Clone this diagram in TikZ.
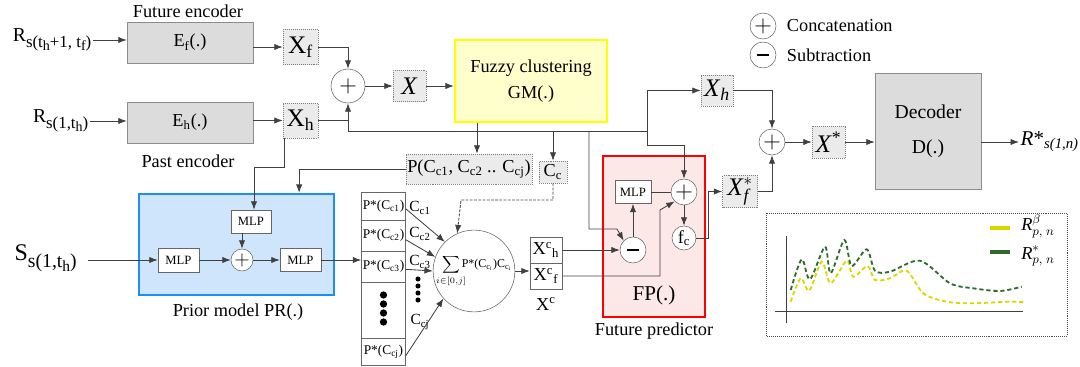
\documentclass[tikz,border=0pt]{standalone}
\usepackage{fontspec}
\setmainfont{Liberation Serif}
\usepackage{amsmath,amssymb}
\usetikzlibrary{positioning,calc,arrows.meta}
\definecolor{encgray}{HTML}{DCDCDC}
\definecolor{featgray}{HTML}{EBEBEB}
\definecolor{gmyellow}{HTML}{FFFF00}
\definecolor{gmfill}{HTML}{FFFFCC}
\definecolor{prblue}{HTML}{1E8FF0}
\definecolor{prfill}{HTML}{CFE5FB}
\definecolor{fpfill}{HTML}{FDE8E8}
\definecolor{ylwc}{HTML}{D8D800}
\definecolor{grnc}{HTML}{2F6B2F}
% lowered index text with its own size
\newcommand{\dsub}[3]{\raisebox{-#1}{\fontsize{#2}{#2}\selectfont #3}}
\newcommand{\minussign}{\rule{9pt}{1.4pt}}

\begin{document}
\begin{tikzpicture}[
    x=0.025cm, y=-0.025cm, >={Latex[length=6pt,width=4.5pt]},
    font=\fontsize{13}{15}\selectfont,
    enc/.style={draw=black!45,fill=encgray,minimum width=3.15cm,minimum height=1.025cm},
    feat/.style={draw=black!50,densely dotted,fill=featgray,inner sep=1pt},
    big/.style={font=\fontsize{18}{20}\selectfont},
    op/.style={circle,draw=black!60,fill=white,inner sep=0pt,minimum size=#1,font=\fontsize{17}{17}\selectfont},
    op/.default=0.65cm,
    mlp/.style={draw=black!60,fill=white,inner sep=1pt,font=\fontsize{9}{10}\selectfont},
    pcell/.style={draw=black!60,fill=white,minimum width=1.1cm,inner sep=0pt,font=\fontsize{9.5}{10}\selectfont},
    xcell/.style={draw=black!60,fill=white,minimum width=0.8cm,minimum height=0.65cm,inner sep=0pt},
    small/.style={font=\fontsize{11}{12}\selectfont},
    link/.style={draw=black!75,line width=0.6pt}
]
\useasboundingbox (0,0) rectangle (1080,367);

% encoders
\node[anchor=east,inner sep=1pt,font=\fontsize{14}{16}\selectfont] (Rf) at (93,40) {R\dsub{4pt}{12}{s(t\dsub{2.5pt}{10}{h}+1, t\dsub{2.5pt}{10}{f})}};
\node[enc] (Ef) at (190,42.5) {E\textsubscript{f}(.)};
\node (lblFe) at (188,11) {Future encoder};
\node[anchor=east,inner sep=1pt,font=\fontsize{14}{16}\selectfont] (Rh) at (90,121) {R\dsub{4pt}{12}{s(1,t\dsub{2.5pt}{10}{h})}};
\node[enc] (Eh) at (190,122.5) {E\textsubscript{h}(.)};
\node (lblPe) at (188,161) {Past encoder};

\node[feat,big,minimum width=0.875cm,minimum height=0.875cm] (Xf) at (300.5,47) {X\textsubscript{f}};
\node[feat,big,minimum width=0.875cm,minimum height=0.875cm] (Xh) at (300.5,120.5) {X\textsubscript{h}};
\node[op=0.85cm] (cat1) at (348,86) {$+$};
\node[feat,big,minimum width=0.825cm,minimum height=0.775cm] (Xall) at (409.5,86) {\textit{X}};

% clustering
\node[draw=gmyellow,line width=1.6pt,fill=gmfill,minimum width=3.8cm,minimum height=2.05cm,align=center] (GM) at (531,81) {Fuzzy clustering\\[4pt] GM(.)};
\node[feat,minimum width=2.9cm,minimum height=0.75cm] (Pjoint) at (469,169) {P(C\textsubscript{c1}, C\textsubscript{c2} .. C\textsubscript{cj})};
\node[feat,minimum width=0.7cm,minimum height=0.55cm] (Cc) at (553,172) {C\textsubscript{c}};

% prior model
\node[draw=prblue,line width=1.6pt,fill=prfill,minimum width=4.875cm,minimum height=2.525cm] (PR) at (236.5,244.5) {};
\node (lblPR) at (238,312) {Prior model PR(.)};
\node[mlp,minimum width=1cm,minimum height=0.575cm] (mlpT) at (251,221.5) {MLP};
\node[mlp,minimum width=1.025cm,minimum height=0.6cm] (mlpL) at (178.5,260) {MLP};
\node[op=0.55cm,font=\fontsize{14}{14}\selectfont] (catP) at (242,260) {$+$};
\node[mlp,minimum width=1.025cm,minimum height=0.575cm] (mlpR) at (300.5,260) {MLP};
\node[anchor=west,inner sep=1pt,font=\fontsize{17}{19}\selectfont] (S) at (13,258) {S\dsub{5pt}{14}{s(1,t\dsub{3pt}{11}{h})}};

% cluster probabilities
\node[pcell,minimum height=0.7cm] (pc1) at (383.5,206) {P*(C\textsubscript{c1})};
\node[pcell,minimum height=0.775cm] (pc2) at (383.5,235.5) {P*(C\textsubscript{c2})};
\node[pcell,minimum height=0.775cm] (pc3) at (383.5,266.5) {P*(C\textsubscript{c3})};
\node[pcell,minimum height=1.4cm] (pcd) at (383.5,310) {};
\node[pcell,minimum height=0.675cm] (pcj) at (383.5,351.5) {P*(C\textsubscript{cj})};
\foreach \y in {295,304,313,322} \fill (383.5,\y) circle (2.6pt);

\node[op=1.6cm,font=\fontsize{8.5}{9}\selectfont] (sum) at (474,271) {$\displaystyle\sum_{i\in[0,j]}$\hspace{-3pt}P*(C\textsubscript{c\textsubscript{i}})C\textsubscript{c\textsubscript{i}}};
\node[small] (lc1) at (420,208) {C\textsubscript{c1}};
\node[small] (lc2) at (420,234) {C\textsubscript{c2}};
\node[small] (lc3) at (420,262) {C\textsubscript{c3}};
\node[small] (lcj) at (420,322) {C\textsubscript{cj}};
\foreach \y in {279,286,293,300} \fill (418,\y) circle (1.8pt);

\node[xcell] (xch) at (546,250) {X\textsuperscript{c}\textsubscript{h}};
\node[xcell] (xcf) at (546,276) {X\textsuperscript{c}\textsubscript{f}};
\node (lblXc) at (546,304) {X\textsuperscript{c}};

% future predictor
\node[draw=red,line width=1.6pt,fill=fpfill,minimum width=2.55cm,minimum height=4.025cm] (FP) at (654,236.5) {};
\node[font=\fontsize{15}{17}\selectfont] (lblFP) at (654,295) {FP(.)};
\node (lblFPo) at (654,331) {Future predictor};
\node[mlp,minimum width=0.9cm,minimum height=0.575cm] (mlpF) at (633,192) {MLP};
\node[op] (catF) at (684,192) {$+$};
\node[op] (sub) at (633,250) {\minussign};
\node[op=0.6cm,font=\fontsize{13}{15}\selectfont] (fc) at (684,238) {f\textsubscript{c}};

% decoder side
\node[feat,big,minimum width=0.875cm,minimum height=0.8cm] (Xsf) at (740,191.5) {$\text{\textit{X}}^{*}_{\text{\textit{f}}}$};
\node[feat,big,minimum width=0.8cm,minimum height=0.775cm] (Xht) at (717,90.5) {\textit{X}\textsubscript{\textit{h}}};
\node[op] (cat2) at (772,142) {$+$};
\node[feat,big,minimum width=0.825cm,minimum height=0.8cm] (Xs) at (828.5,142) {\textit{X}\textsuperscript{*}};
\node[draw=black!45,fill=encgray,minimum width=2.65cm,minimum height=2.9cm,align=center,font=\fontsize{14}{16}\selectfont] (Dec) at (928,131) {Decoder\\[9pt] D(.)};
\node[anchor=west,inner sep=1pt,font=\fontsize{15}{17}\selectfont] (Rout) at (1019,142) {\textit{R}*\textsubscript{\textit{s(1,n)}}};

% legend
\node[op] (lgCat) at (763,26) {$+$};
\node[anchor=west] (lgCatT) at (782,26) {Concatenation};
\node[op] (lgSub) at (763,55) {\minussign};
\node[anchor=west] (lgSubT) at (782,55) {Subtraction};

% connectors
\draw[link,->] (Rf.east) -- (Rf.east -| Ef.west);
\draw[link,->] (Rh.east) -- (Rh.east -| Eh.west);
\draw[link,->] (Ef.east |- Xf.west) -- (Xf.west);
\draw[link,->] (Eh.east |- Xh.west) -- (Xh.west);
\draw[link,->] (Xf.east) -| (cat1.north);
\draw[link] (Xh.east) -- (Xh.east -| cat1.south);
\coordinate (busL) at (348,131);
\coordinate (busR) at (647,131);
\draw[link] (busL) -- (busR);
\draw[link,->] (busL) -- (cat1.south);
\draw[link,->] (cat1.east) -- (Xall.west);
\draw[link,->] (Xall.east) -- (Xall.east -| GM.west);
\coordinate (gmout) at ($(Pjoint.north)+(8,0)$);
\draw[link,->] (gmout |- GM.south) -- (gmout);
\draw[link,->] (Cc.north |- busL) -- (Cc.north);
\coordinate (subin) at (589,229);
\draw[link,->] (subin |- busL) -- (subin) -- ++(28,0) -- (sub.north west);
\draw[link,->] (busR |- Xht.west) -- (Xht.west);
\coordinate (fpturn) at (647,145);
\draw[link,->] (busR |- Xht.west) -- (fpturn) -| (catF.north);

\draw[link,->] (Pjoint.west) -| ($(PR.north east)+(-36,0)$);
\coordinate (xhdown) at ($(Xh.south)+(-16,0)$);
\draw[link,->] (xhdown) |- ($(mlpT.north)+(3,-42)$) -- ($(mlpT.north)+(3,0)$);
\draw[link,->] ($(S.east |- mlpL.west)+(10,0)$) -- (mlpL.west);
\draw[link,->] (mlpL.east) -- (catP.west);
\draw[link,->] (mlpT.south -| catP.north) -- (catP.north);
\draw[link,->] (catP.east) -- (mlpR.west);
\draw[link,->] (mlpR.east) -- (mlpR.east -| pc3.west);

\draw[link,->] ([yshift=-2pt]pc1.east) -- (sum.135);
\draw[link,->] ([yshift=-3pt]pc2.east) -- (sum.160);
\draw[link,->] ([yshift=-2pt]pc3.east) -- (sum.180);
\draw[link,->] ([yshift=-3pt]pcj.east) -- (sum.222);
\coordinate (ccbend) at (461,200);
\draw[link,->,dash pattern=on 2pt off 1pt] (Cc.south) |- (ccbend) -- (sum.114);
\draw[link,->] (sum.east) -- (sum.east -| xcf.west);

\draw[link,->] (xch.east) -- (xch.east -| sub.west);
\coordinate (fpin) at (660,210);
\draw[link,->] (xcf.east) -| (fpin) -- (catF.south west);
\draw[link,->] (sub.north) -- (mlpF.south);
\draw[link] (mlpF.east) -- (catF.west);
\draw[link,->] (catF.south) -- (fc.north);
\draw[link,->] (fc.east) -- ++(12,0) |- (Xsf.west);
\draw[link,->] (Xsf.east) -| (cat2.south);
\draw[link,->] (Xht.east) -| (cat2.north);
\draw[link,->] (cat2.east) -- (Xs.west);
\draw[link,->] (Xs.east) -- (Xs.east -| Dec.west);
\draw[link,->] (Dec.east |- Rout.west) -- (Rout.west);

% sample plot
\draw[black!70,densely dotted] (766,213) rectangle (1067,336);
\draw[black!75,line width=0.7pt] (786,236) -- (786,323);
\draw[black!75,line width=0.7pt] (775,311) -- (1023,311);
\draw[ylwc,line width=1.3pt,dash pattern=on 3pt off 2pt] plot[smooth] coordinates {
  (790.7,301.7) (800.7,278.3) (809.3,290.7) (821.7,261.7) (830.7,283.3) (846.7,260.7)
  (853.3,276.7) (867.7,266) (875,280) (890,278.3) (906.7,270.7) (923.3,293.3)
  (946.7,301.7) (973.3,303.3) (1006.7,301.7) (1026,302.3)};
\draw[grnc,line width=1.3pt,dash pattern=on 3pt off 2pt] plot[smooth] coordinates {
  (790.7,290) (801.7,259.3) (810,279.3) (825,246.7) (830.7,273.3) (844.3,240)
  (851.7,266) (866.7,249.3) (875,270.7) (890,271.7) (920,260.7) (950,283.3)
  (973.3,288.3) (1000,291) (1021.7,286.7)};
\draw[ylwc,line width=2.5pt] (990,228) -- (1010,228);
\draw[grnc,line width=2.5pt] (990,252) -- (1010,252);
\node[anchor=west,inner sep=0pt,font=\fontsize{13}{15}\selectfont] (lgB) at (1021,226) {$\text{\textit{R}}^{\beta}_{p,\;n}$};
\node[anchor=west,inner sep=0pt,font=\fontsize{13}{15}\selectfont] (lgS) at (1021,256) {$\text{\textit{R}}^{*}_{p,\;n}$};

\end{tikzpicture}
\end{document}
